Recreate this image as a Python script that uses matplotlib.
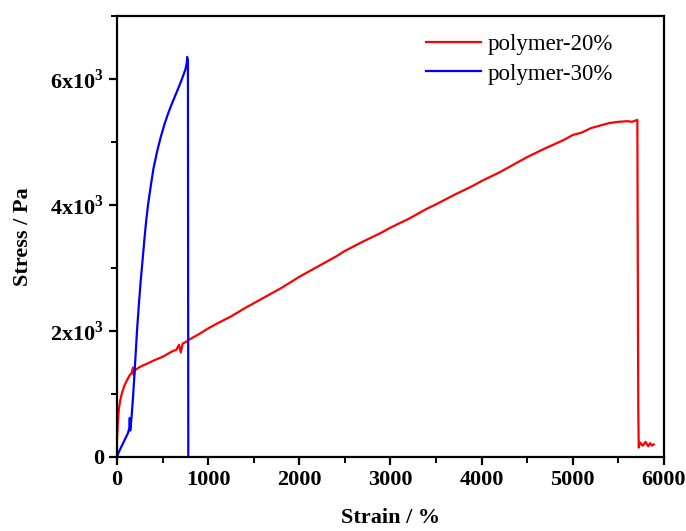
import matplotlib
matplotlib.use('Agg')
import matplotlib.pyplot as plt
from matplotlib.ticker import MultipleLocator

# strain (%) and stress (Pa)
strain_20 = [0, 8, 20, 35, 55, 80, 110, 140, 160, 175, 185, 195, 210, 240, 280, 330,
             400, 450, 500, 560, 610, 650, 680, 700, 720, 760, 800, 900, 1000, 1100,
             1250, 1400, 1500, 1650, 1800, 2000, 2200, 2400, 2500, 2700, 2900, 3000,
             3200, 3400, 3500, 3700, 3900, 4000, 4200, 4400, 4500, 4700, 4900, 5000,
             5100, 5200, 5300, 5400, 5500, 5600, 5650, 5710, 5715, 5720, 5725,
             5740, 5770, 5800, 5830, 5850, 5870, 5890]
stress_20 = [280, 520, 760, 900, 1020, 1130, 1220, 1300, 1330, 1420, 1300, 1380, 1390,
             1420, 1450, 1480, 1530, 1560, 1590, 1640, 1680, 1700, 1780, 1660, 1800,
             1830, 1870, 1950, 2040, 2120, 2230, 2360, 2440, 2560, 2680, 2860, 3020,
             3180, 3270, 3420, 3560, 3640, 3780, 3940, 4010, 4160, 4300, 4380, 4520,
             4680, 4760, 4900, 5030, 5110, 5150, 5220, 5260, 5300, 5320, 5330, 5320,
             5350, 3000, 800, 150, 230, 180, 240, 170, 220, 180, 200]

strain_30 = [0, 20, 40, 60, 80, 100, 120, 135, 140, 145, 160, 175, 190, 205, 220, 240,
             260, 280, 300, 320, 340, 370, 400, 440, 480, 520, 560, 600, 640, 680,
             720, 750, 765, 770, 775, 778, 780, 782]
stress_30 = [0, 80, 140, 200, 260, 320, 380, 460, 620, 420, 640, 940, 1280, 1650,
             2020, 2430, 2800, 3120, 3450, 3750, 4000, 4300, 4580, 4850, 5080, 5280,
             5450, 5600, 5740, 5880, 6030, 6150, 6250, 6350, 6200, 6300, 3000, 0]

y_ticks = [0, 2000, 4000, 6000]
y_labels = ['0', '2x10$^{\\mathbf{3}}$', '4x10$^{\\mathbf{3}}$', '6x10$^{\\mathbf{3}}$']

plt.rcParams['font.family'] = ['Liberation Serif', 'DejaVu Serif']
plt.rcParams['mathtext.fontset'] = 'custom'
plt.rcParams['mathtext.rm'] = 'Liberation Serif:bold'
plt.rcParams['mathtext.bf'] = 'Liberation Serif:bold'

fig = plt.figure(figsize=(6.86, 5.31), dpi=100)
ax = fig.add_axes([0.1706, 0.1394, 0.797, 0.8305])

ax.plot(strain_20, stress_20, color='#ff0000', lw=1.6, label='polymer-20%')
ax.plot(strain_30, stress_30, color='#0000ff', lw=1.6, label='polymer-30%')

ax.set_xlim(0, 6000)
ax.set_ylim(0, 7000)
ax.xaxis.set_major_locator(MultipleLocator(1000))
ax.xaxis.set_minor_locator(MultipleLocator(500))
ax.set_yticks(y_ticks)
ax.set_yticklabels(y_labels)
ax.yaxis.set_minor_locator(MultipleLocator(1000))

ax.tick_params(which='major', direction='out', length=6, width=1.6, labelsize=16)
ax.tick_params(which='minor', direction='out', length=4, width=1.4)
for lab in ax.get_xticklabels() + ax.get_yticklabels():
    lab.set_fontweight('bold')
for sp in ax.spines.values():
    sp.set_linewidth(1.6)

ax.set_xlabel('Strain / %', fontsize=16, fontweight='bold', labelpad=13)
ax.set_ylabel('Stress / Pa', fontsize=16, fontweight='bold', labelpad=12)

ax.legend(loc='upper right', frameon=False, fontsize=16.5, handlelength=2.4,
          handletextpad=0.3, labelspacing=0.35, bbox_to_anchor=(0.945, 1.005))

fig.savefig('out.png', dpi=100)
